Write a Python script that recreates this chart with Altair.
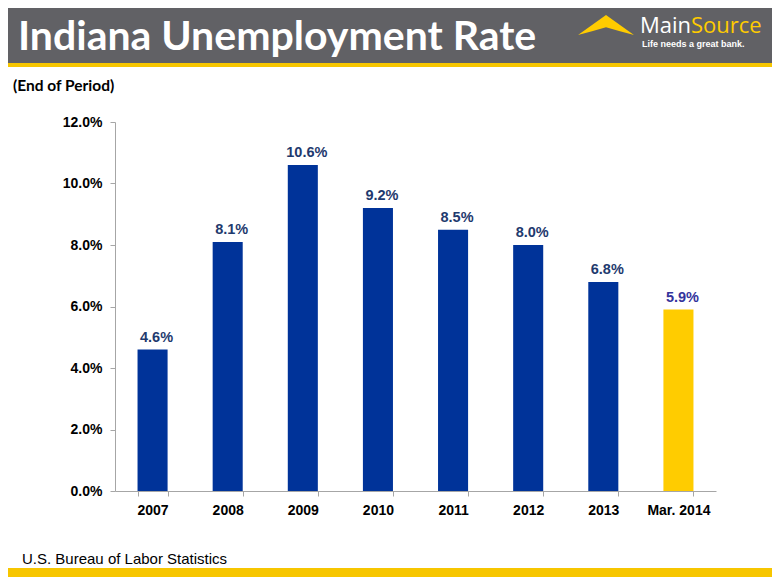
import altair as alt
import pandas as pd

# ---- data ----
categories = ["2007", "2008", "2009", "2010", "2011", "2012", "2013", "Mar. 2014"]
rates = [4.6, 8.1, 10.6, 9.2, 8.5, 8.0, 6.8, 5.9]
groups = ["year", "year", "year", "year", "year", "year", "year", "latest"]
y_ticks = [0, 2, 4, 6, 8, 10, 12]

title_text = "Indiana Unemployment Rate"
subtitle_text = "(End of Period)"
source_text = "U.S. Bureau of Labor Statistics"

df = pd.DataFrame({"cat": categories, "rate": rates, "group": groups})
one = pd.DataFrame({"a": [0]})

BLUE = "#003399"
YELLOW = "#FFCC00"
GRAY = "#616165"
LINE_YELLOW = "#F7C600"

x_enc = alt.X("cat:N", sort=categories,
              scale=alt.Scale(paddingInner=0.6, paddingOuter=0.3),
              axis=alt.Axis(title=None, labelAngle=0, labelFont="Liberation Sans",
                            labelFontWeight="bold", labelFontSize=14, labelColor="#000000",
                            labelPadding=7, tickBand="extent", tickSize=5,
                            tickColor="#A6A6A6", domainColor="#A6A6A6", grid=False))
y_enc = alt.Y("rate:Q", scale=alt.Scale(domain=[0, 12], nice=False),
              axis=alt.Axis(title=None, values=y_ticks,
                            labelExpr="format(datum.value, '.1f') + '%'",
                            labelFont="Liberation Sans", labelFontWeight="bold",
                            labelFontSize=14, labelColor="#000000", labelPadding=8,
                            tickSize=5, tickColor="#A6A6A6", domainColor="#A6A6A6",
                            grid=False))

color_scale = alt.Scale(domain=["year", "latest"], range=[BLUE, YELLOW])

bars = alt.Chart(df).mark_bar().encode(
    x=x_enc, y=y_enc,
    color=alt.Color("group:N", scale=color_scale, legend=None),
)

labels = alt.Chart(df).transform_calculate(
    rate_label="format(datum.rate, '.1f') + '%'"
).mark_text(
    font="Liberation Sans", fontWeight="bold", fontSize=14.5, dy=-8, dx=4,
    baseline="alphabetic"
).encode(
    x=alt.X("cat:N", sort=categories),
    y="rate:Q",
    text="rate_label:N",
    color=alt.condition("datum.group == 'latest'", alt.value("#34349C"),
                        alt.value("#1F3A6E")),
)

# ---- decorations (header, footer) ----
header = alt.Chart(one).mark_rect(color=GRAY).encode(
    x=alt.value(-107), x2=alt.value(657), y=alt.value(-114), y2=alt.value(-59))
header_line = alt.Chart(one).mark_rect(color=LINE_YELLOW).encode(
    x=alt.value(-107), x2=alt.value(657), y=alt.value(-59), y2=alt.value(-55))
footer = alt.Chart(one).mark_rect(color=LINE_YELLOW).encode(
    x=alt.value(-107), x2=alt.value(657), y=alt.value(446), y2=alt.value(460))

title = alt.Chart(one).mark_text(
    text=title_text, font="Lato", fontWeight="bold", fontSize=41, color="white",
    align="left", baseline="alphabetic").encode(x=alt.value(-97), y=alt.value(-72))

icon = alt.Chart(one).mark_point(
    shape="M-1,0.36L0,-0.36L1,0.36L0.5,0.22L0,0.08L-0.5,0.22Z",
    filled=True, color=YELLOW, opacity=1, size=3136, strokeWidth=0
).encode(x=alt.value(491), y=alt.value(-97))

main_txt = alt.Chart(one).mark_text(
    text="Main", font="Open Sans", fontSize=22, color="white",
    align="right", baseline="alphabetic").encode(x=alt.value(576), y=alt.value(-89))
source_txt = alt.Chart(one).mark_text(
    text="Source", font="Open Sans", fontSize=22, color=YELLOW,
    align="left", baseline="alphabetic").encode(x=alt.value(576), y=alt.value(-89))
tagline = alt.Chart(one).mark_text(
    text="Life needs a great bank.", font="Liberation Sans", fontWeight="bold",
    fontSize=9, color="white", align="left", baseline="alphabetic"
).encode(x=alt.value(527), y=alt.value(-75))

subtitle = alt.Chart(one).mark_text(
    text=subtitle_text, font="Lato", fontWeight="bold", fontSize=15.5, color="black",
    align="left", baseline="middle").encode(x=alt.value(-102), y=alt.value(-36))

source = alt.Chart(one).mark_text(
    text=source_text, font="Liberation Sans", fontSize=15, color="black",
    align="left", baseline="alphabetic").encode(x=alt.value(-93), y=alt.value(442))

chart = alt.layer(
    header, header_line, footer, title, icon, main_txt, source_txt, tagline,
    subtitle, source, bars, labels
).properties(
    width=601, height=369,
    autosize=alt.AutoSizeParams(type="none"),
    padding={"left": 107, "top": 114, "right": 56, "bottom": 86},
    background="white",
).configure_view(stroke=None)

chart.save("out.html", embed_options={"renderer": "svg", "actions": False})
